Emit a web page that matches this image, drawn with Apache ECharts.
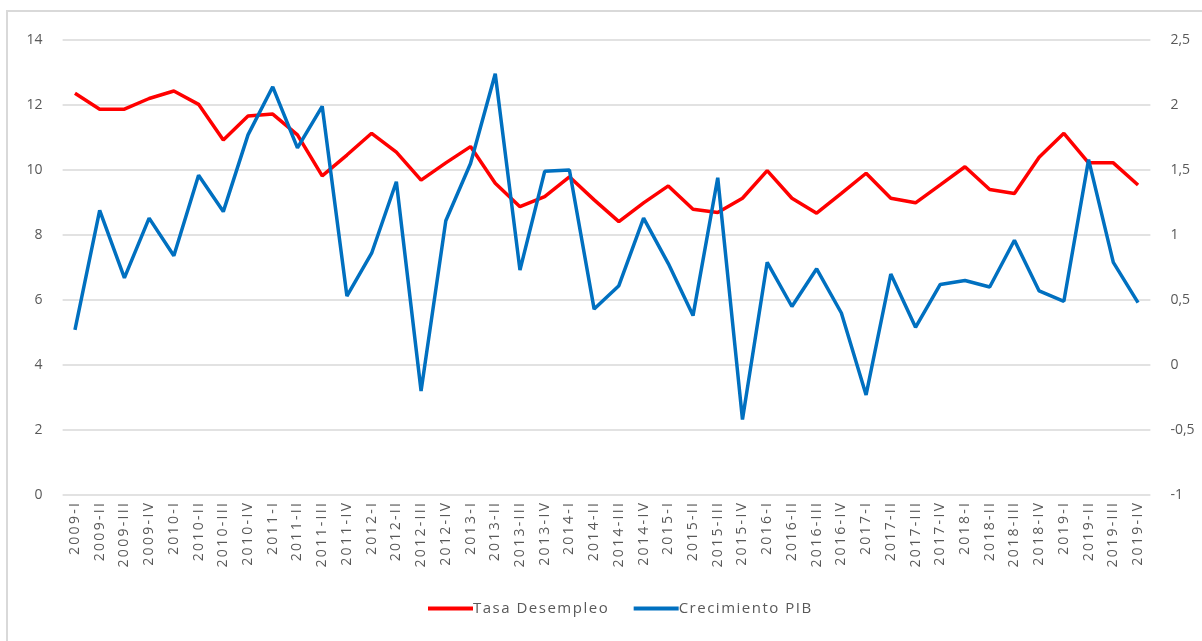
<!DOCTYPE html>
<html>
<head>
<meta charset="utf-8">
<script src="https://cdn.jsdelivr.net/npm/echarts@6/dist/echarts.min.js"></script>
<style>
  html, body { margin: 0; padding: 0; background: #fff; }
  #chart { width: 1202px; height: 641px; }
</style>
</head>
<body>
<div id="chart"></div>
<script>
const years = ['2009', '2010', '2011', '2012', '2013', '2014', '2015', '2016', '2017', '2018', '2019'];
const quarters = ['I', 'II', 'III', 'IV'];
const categories = [];
years.forEach(y => quarters.forEach(q => categories.push(y + '-' + q)));

const desempleo = [
  12.36, 11.87, 11.87, 12.2, 12.43, 12.02, 10.92, 11.66, 11.72, 11.08, 9.82, 10.46,
  11.13, 10.55, 9.69, 10.22, 10.72, 9.59, 8.87, 9.18, 9.79, 9.08, 8.41, 8.99,
  9.51, 8.79, 8.69, 9.13, 9.98, 9.13, 8.67, 9.28, 9.9, 9.13, 8.99, 9.54,
  10.1, 9.4, 9.28, 10.39, 11.13, 10.22, 10.22, 9.54
];
const pib = [
  0.27, 1.19, 0.67, 1.13, 0.84, 1.46, 1.18, 1.77, 2.14, 1.67, 1.99, 0.53,
  0.86, 1.41, -0.2, 1.11, 1.55, 2.24, 0.73, 1.49, 1.5, 0.43, 0.61, 1.13,
  0.78, 0.38, 1.44, -0.42, 0.79, 0.45, 0.74, 0.4, -0.23, 0.7, 0.29, 0.62,
  0.65, 0.6, 0.96, 0.57, 0.49, 1.58, 0.79, 0.48
];

const textColor = '#595959';
const font = 'Open Sans';

// the original text is drawn with loose letter spacing
const spaced = (s, gap) => s.split('').join(gap);

const chart = echarts.init(document.getElementById('chart'));
chart.setOption({
  animation: false,
  graphic: [
    { type: 'polyline', shape: { points: [[7, 641], [7, 11], [1202, 11]] },
      style: { stroke: '#d9d9d9', lineWidth: 2, fill: null } }
  ],
  grid: { left: 62.6, right: 51.6, top: 40, bottom: 146 },
  legend: {
    top: 596,
    left: 423,
    itemWidth: 45,
    itemHeight: 4,
    itemGap: 26,
    icon: 'rect',
    textStyle: { color: textColor, fontSize: 15, fontFamily: font, padding: [0, 0, 0, -5] },
    formatter: name => spaced(name, '\u200A'),
    data: ['Tasa Desempleo', 'Crecimiento PIB']
  },
  xAxis: {
    type: 'category',
    data: categories,
    boundaryGap: true,
    axisLine: { show: false },
    axisTick: { show: false },
    axisLabel: {
      rotate: 90, interval: 0, color: textColor, fontSize: 14, fontFamily: font, margin: 8,
      formatter: v => spaced(v, '\u2009')
    }
  },
  yAxis: [
    {
      type: 'value', min: 0, max: 14, interval: 2,
      axisLine: { show: false }, axisTick: { show: false },
      axisLabel: { color: textColor, fontSize: 14, fontFamily: font, margin: 20 },
      splitLine: { lineStyle: { color: '#d9d9d9', width: 1.5 } }
    },
    {
      type: 'value', min: -1, max: 2.5, interval: 0.5,
      axisLine: { show: false }, axisTick: { show: false },
      axisLabel: {
        color: textColor, fontSize: 14, fontFamily: font, margin: 20,
        formatter: v => String(v).replace('.', ',')
      },
      splitLine: { show: false }
    }
  ],
  series: [
    {
      name: 'Tasa Desempleo', type: 'line', yAxisIndex: 0,
      data: desempleo, showSymbol: false, symbol: 'none',
      itemStyle: { color: '#ff0000' },
      lineStyle: { color: '#ff0000', width: 3.5 }
    },
    {
      name: 'Crecimiento PIB', type: 'line', yAxisIndex: 1,
      data: pib, showSymbol: false, symbol: 'none',
      itemStyle: { color: '#0070c0' },
      lineStyle: { color: '#0070c0', width: 3.5 }
    }
  ]
});
</script>
</body>
</html>
